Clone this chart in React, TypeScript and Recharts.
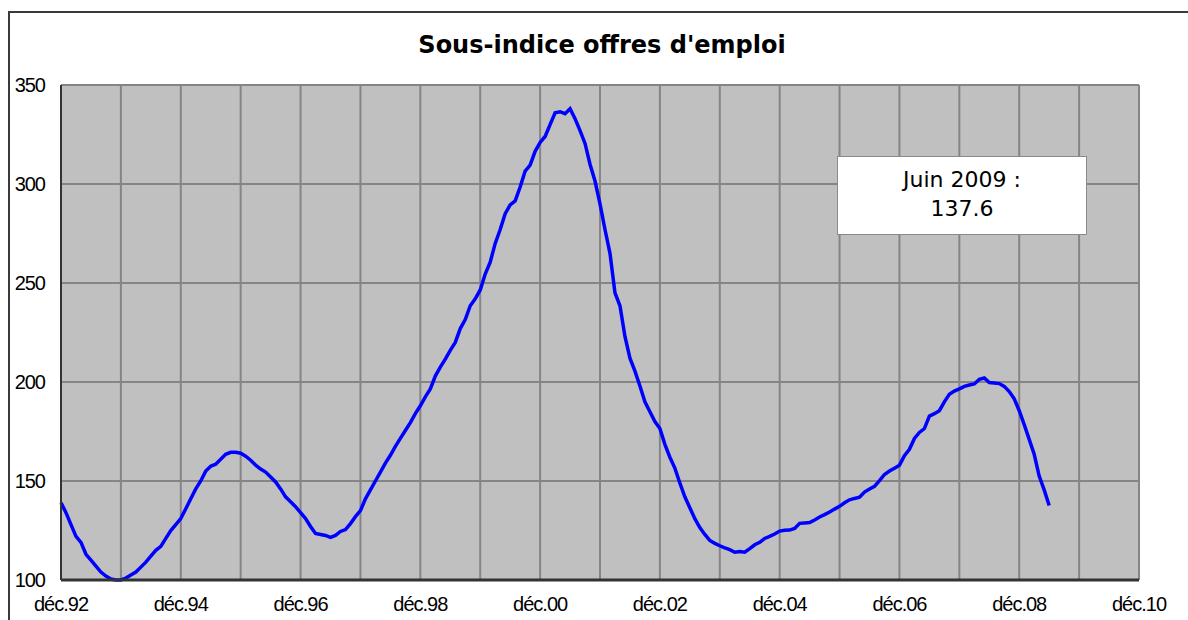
import React from "react";
import { LineChart, Line, XAxis, YAxis, CartesianGrid } from "recharts";

// Monthly values from déc.92 (index 0) to juin 2009 (index 198)
const offresEmploi: number[] = [
  139, 134, 128, 122, 119, 113, 110, 107, 104, 102, 100.5, 100,
  100, 101, 102.5, 104, 106.5, 109, 112, 115, 117, 121, 125, 128,
  131, 136, 141, 146, 150, 155, 157.5, 158.5, 161, 163.5, 164.5, 164.5,
  164, 162.5, 160.5, 158, 156, 154.5, 152, 149.5, 146, 142, 139.5, 137,
  134, 131, 127, 123.5, 123, 122.5, 121.5, 122.5, 124.5, 125.5, 128.5, 132,
  135, 141, 145.5, 150, 154.5, 159, 163, 167.5, 171.5, 175.5, 179.5, 184,
  188, 192.5, 196.5, 203, 207.5, 211.5, 216, 220, 227, 231.5, 238.5, 242,
  246.5, 254.5, 260.5, 270, 277, 285, 289.5, 291.5, 298.5, 306.5, 309.5, 316.5,
  321, 324, 330, 336, 336.5, 335.5, 338, 333, 327, 320.5, 310, 301.5,
  290, 277, 265, 245, 238.5, 223, 212, 205.5, 198, 190, 185, 180,
  176.5, 168.5, 162, 156.5, 149, 142, 136.5, 131, 126.5, 123, 120, 118.5,
  117.3, 116.2, 115.3, 114, 114.4, 114, 115.8, 117.8, 119, 121, 122, 123.2,
  124.7, 125.1, 125.2, 126, 128.6, 128.8, 129, 130.3, 131.8, 133, 134.3, 135.8,
  137.2, 139, 140.5, 141.2, 141.8, 144.4, 146, 147.3, 150.2, 153.3, 155, 156.5,
  158, 162.8, 166, 171.5, 174.5, 176.5, 182.8, 184, 185.5, 190, 193.8, 195.4,
  196.5, 197.8, 198.5, 199, 201.3, 202, 199.7, 199.5, 199.2, 197.8, 195.2, 191.5,
  185.5, 178.5, 171, 163.5, 152.5, 145.5, 137.6,
];

const xTickLabels: string[] = [
  "déc.92", "déc.94", "déc.96", "déc.98", "déc.00",
  "déc.02", "déc.04", "déc.06", "déc.08", "déc.10",
];
const xTicks: number[] = Array.from({ length: 19 }, (_, i) => i * 12);
const yTicks: number[] = [100, 150, 200, 250, 300, 350];

const titre = "Sous-indice offres d'emploi";
const noteLigne1 = "Juin 2009 :";
const noteLigne2 = "137.6";

const data = offresEmploi.map((v, i) => ({ m: i, v }));

const tickFont = {
  fontFamily: "'Liberation Sans', Arial, sans-serif",
  fontSize: 20,
  fill: "#000",
  letterSpacing: -1,
};

export default function App() {
  return (
    <div
      style={{
        position: "fixed",
        left: 0,
        top: 0,
        width: 1188,
        height: 620,
        background: "#fff",
        overflow: "hidden",
      }}
    >
      <div
        style={{
          position: "absolute",
          left: 8,
          top: 11,
          width: 1200,
          height: 640,
          borderLeft: "2px solid #3a3a3a",
          borderTop: "2px solid #3a3a3a",
        }}
      />
      <div
        style={{
          position: "absolute",
          left: 602,
          top: 30,
          transform: "translateX(-50%)",
          whiteSpace: "nowrap",
          fontFamily: "'DejaVu Sans', Verdana, sans-serif",
          fontWeight: "bold",
          fontSize: 24,
          lineHeight: "30px",
          color: "#000",
        }}
      >
        {titre}
      </div>
      <div style={{ position: "absolute", left: 0, top: 0 }}>
        <LineChart
          width={1188}
          height={620}
          data={data}
          margin={{ top: 85, right: 49, bottom: 10, left: 11 }}
        >
          <CartesianGrid fill="#c0c0c0" stroke="#858585" strokeWidth={2} />
          <XAxis
            type="number"
            dataKey="m"
            domain={[0, 216]}
            ticks={xTicks}
            interval={0}
            tickFormatter={(v: number) => (v % 24 === 0 ? xTickLabels[v / 24] : "")}
            tickLine={false}
            tickSize={0}
            tickMargin={17}
            height={30}
            axisLine={{ stroke: "#333", strokeWidth: 3 }}
            tick={tickFont}
          />
          <YAxis
            type="number"
            domain={[100, 350]}
            ticks={yTicks}
            interval={0}
            width={50}
            tickLine={false}
            tickSize={0}
            tickMargin={16}
            axisLine={{ stroke: "#333", strokeWidth: 2 }}
            tick={tickFont}
          />
          <Line
            type="linear"
            dataKey="v"
            stroke="#0000ff"
            strokeWidth={3.5}
            dot={false}
            isAnimationActive={false}
          />
        </LineChart>
      </div>
      <div
        style={{
          position: "absolute",
          left: 837,
          top: 156,
          width: 250,
          height: 79,
          background: "#fff",
          border: "1px solid #8a8a8a",
          fontFamily: "'DejaVu Sans', Verdana, sans-serif",
          fontSize: 22,
          lineHeight: "29px",
          textAlign: "center",
          color: "#000",
          paddingTop: 8,
          boxSizing: "border-box",
        }}
      >
        <div>{noteLigne1}</div>
        <div>{noteLigne2}</div>
      </div>
    </div>
  );
}
